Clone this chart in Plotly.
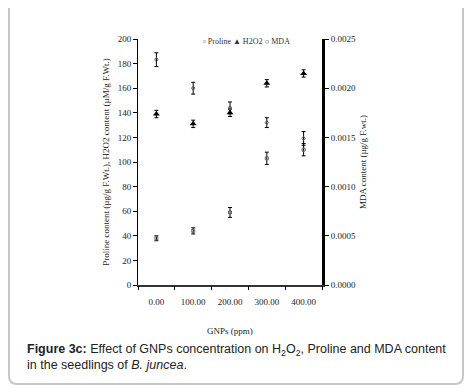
import plotly.graph_objects as go

conc = [0, 100, 200, 300, 400]
tick_labels = ["0.00", "100.00", "200.00", "300.00", "400.00"]
proline = [38, 44, 59, 103, 110]
proline_err = [2, 2.5, 4, 5, 5]
h2o2 = [139, 131, 140, 164, 172]
h2o2_err = [3, 3, 3, 3, 3]
mda = [0.00229, 0.00200, 0.00180, 0.00165, 0.00149]
mda_err = [0.00007, 0.00006, 0.00006, 0.00005, 0.00007]
mda_ticks = [0.0, 0.0005, 0.0010, 0.0015, 0.0020, 0.0025]
boundaries = [c - 50 for c in conc] + [conc[-1] + 50]

OFF = 8  # default page body margin
W, H = 472 - OFF, 391 - OFF
# plot area in page pixel coordinates
PL, PR, PT, PB = 138, 322, 39, 285
L, R, T, B = PL - OFF, PR - OFF, PT - OFF, PB - OFF


def px(x):
    return (x - PL) / (PR - PL)


def py(y):
    return (PB - y) / (PB - PT)


serif = "Liberation Serif"
fig = go.Figure()

fig.add_trace(go.Scatter(
    x=conc, y=proline, mode="markers", name="Proline",
    marker=dict(symbol="square-open", size=3, color="#666", line=dict(width=1, color="#666")),
    error_y=dict(type="data", array=proline_err, color="black", thickness=1, width=2),
))
fig.add_trace(go.Scatter(
    x=conc, y=h2o2, mode="markers", name="H2O2",
    marker=dict(symbol="triangle-up", size=6, color="black"),
    error_y=dict(type="data", array=h2o2_err, color="black", thickness=1, width=2),
))
fig.add_trace(go.Scatter(
    x=conc, y=mda, mode="markers", name="MDA", yaxis="y2",
    marker=dict(symbol="circle-open", size=3, color="#555", line=dict(width=1, color="#555")),
    error_y=dict(type="data", array=mda_err, color="black", thickness=1, width=2),
))
# carrier for the category-boundary tick axis
fig.add_trace(go.Scatter(
    x=conc, y=proline, mode="markers", xaxis="x2", showlegend=False,
    hoverinfo="skip", marker=dict(opacity=0),
))

axis_font = dict(family=serif, size=9, color="#222")
title_font = dict(family=serif, size=9, color="#222")

fig.update_layout(
    width=W, height=H,
    margin=dict(l=L, r=W - R, t=T, b=H - B, autoexpand=False),
    paper_bgcolor="white", plot_bgcolor="white",
    showlegend=False,
    xaxis=dict(range=[-50, 450], tickvals=conc, ticktext=tick_labels, ticks="",
               ticklen=0, ticklabelstandoff=7, tickfont=axis_font,
               showline=True, linecolor="#333", linewidth=2, showgrid=False, zeroline=False,
               title=dict(text="GNPs (ppm)", font=title_font, standoff=22)),
    xaxis2=dict(range=[-50, 450], overlaying="x", anchor="y", side="bottom",
                tickvals=boundaries, ticks="outside", ticklen=4, tickcolor="black",
                tickwidth=1, showticklabels=False, showline=False, showgrid=False,
                zeroline=False),
    yaxis=dict(range=[0, 200], dtick=20, ticks="outside", ticklen=4, tickcolor="black",
               tickfont=axis_font, showline=True, linecolor="black", linewidth=1,
               showgrid=False, zeroline=False,
               title=dict(text="Proline content (µg/g F.Wt.), H2O2 content (µM/g F.Wt.)",
                          font=title_font, standoff=6)),
    yaxis2=dict(range=[0, 0.0025], overlaying="y", side="right", tickvals=mda_ticks,
                tickformat=".4f", ticks="outside", ticklen=4, tickcolor="black",
                tickfont=axis_font, showline=True, linecolor="black", linewidth=3,
                showgrid=False, zeroline=False,
                title=dict(text="MDA content (µg/g F.wt.)", font=title_font, standoff=5)),
)

# legend drawn as a single text line, as in the reference
fig.add_annotation(x=px(246), y=py(41), xref="paper", yref="paper",
                   xanchor="center", yanchor="middle", showarrow=False,
                   font=dict(family=serif, size=8, color="#333"),
                   text="▫ Proline ▲ H2O2 ○ MDA")

# rounded border around figure + caption
x0, x1 = px(9), px(463)
y0, y1 = py(384), py(-10)
rx = 8 / (PR - PL)
ry = 8 / (PB - PT)
path = (f"M {x0},{y1} L {x0},{y0 + ry} Q {x0},{y0} {x0 + rx},{y0} "
        f"L {x1 - rx},{y0} Q {x1},{y0} {x1},{y0 + ry} L {x1},{y1}")
fig.add_shape(type="path", path=path, xref="paper", yref="paper",
              line=dict(color="#c8c8c8", width=2), layer="below")

cap_font = dict(family="Liberation Sans", size=12.5, color="#222")
fig.add_annotation(x=px(25), y=py(350), xref="paper", yref="paper", xanchor="left", yanchor="middle",
                   showarrow=False, align="left", font=cap_font,
                   text="<b>Figure 3c:</b> Effect of GNPs concentration on H<sub>2</sub>O<sub>2</sub>, Proline and MDA content")
fig.add_annotation(x=px(25), y=py(365), xref="paper", yref="paper", xanchor="left", yanchor="middle",
                   showarrow=False, align="left", font=cap_font,
                   text="in the seedlings of <i>B. juncea</i>.")

fig.write_html("out.html")
